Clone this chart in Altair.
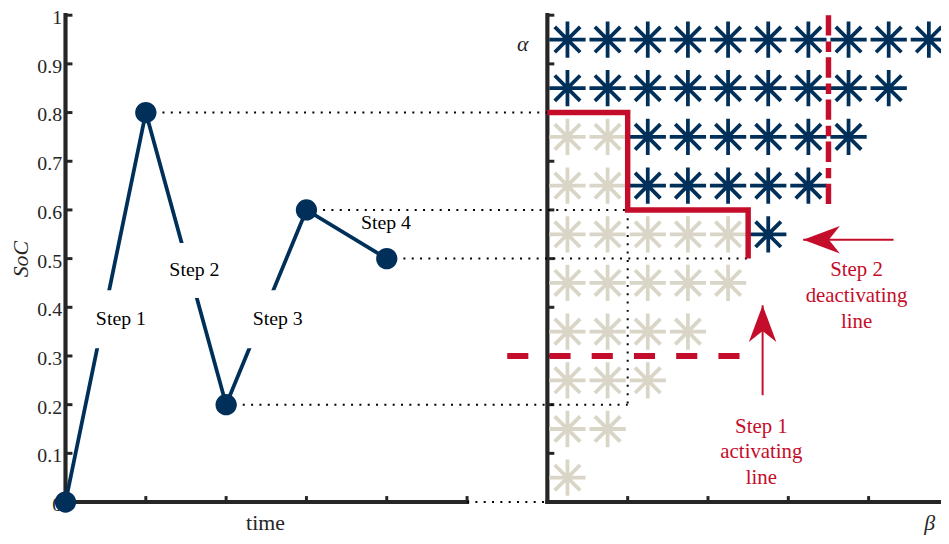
import altair as alt
import pandas as pd

# ------------------------------------------------------------------ data
# SoC trajectory (left panel)
time = [0, 1, 2, 3, 4]
soc = [0.0, 0.8, 0.2, 0.6, 0.5]

step_text = ["Step 1", "Step 2", "Step 3", "Step 4"]
step_t = [0.69, 1.605, 2.642, 3.99]
step_soc = [0.376, 0.476, 0.376, 0.573]

# white label backgrounds that interrupt the trajectory behind labels 1-3
box_t0 = [0.36, 1.25, 2.26]
box_t1 = [1.05, 1.98, 2.99]
box_soc0 = [0.316, 0.419, 0.316]
box_soc1 = [0.435, 0.532, 0.435]

soc_ticks = [0, 0.1, 0.2, 0.3, 0.4, 0.5, 0.6, 0.7, 0.8, 0.9, 1.0]
time_ticks = [1, 2, 3, 4, 5]
beta_ticks = [0.2, 0.4, 0.6, 0.8]
alpha_ticks = [0.1, 0.2, 0.3, 0.4, 0.5, 0.6, 0.7, 0.8, 0.9, 1.0]

# Preisach plane (right panel)
alpha_rows = [0.95, 0.85, 0.75, 0.65, 0.55, 0.45, 0.35, 0.25, 0.15, 0.05]
beta_cols = [0.05, 0.15, 0.25, 0.35, 0.45, 0.55, 0.65, 0.75, 0.85, 0.95]
stars_per_row = [10, 9, 8, 7, 6, 5, 4, 3, 2, 1]
inactive_per_row = [0, 0, 2, 2, 5, 5, 4, 3, 2, 1]

stair_beta = [0.0, 0.2, 0.2, 0.5, 0.5]
stair_alpha = [0.8, 0.8, 0.6, 0.6, 0.5]
deact_beta = [0.7]
deact_alpha = [1.0, 0.6]
act_alpha = [0.3]
act_beta = [-0.1, 0.5]

# dotted connectors: SoC level, time on the left, beta on the right
conn_soc = [0.8, 0.6, 0.5, 0.2, 0.0]
conn_time = [1, 3, 4, 2, 5]
conn_beta = [0.0, 0.2, 0.5, 0.2, 0.0]
vconn_beta = [0.2]
vconn_alpha = [0.6, 0.2]

# arrows (tail -> tip) and red captions (anchored at first line)
arrow1_beta = [0.536, 0.536]
arrow1_alpha = [0.2195, 0.404]
arrow2_beta = [0.862, 0.637]
arrow2_alpha = [0.5386, 0.5386]
red_text = ["Step 1\nactivating\nline", "Step 2\ndeactivating\nline"]
red_beta = [0.533, 0.770]
red_alpha = [0.155, 0.476]

# ------------------------------------------------------------------ style
BLUE = "#00305a"
RED = "#c40d2a"
BEIGE = "#d9d6c8"
AXIS = "#262626"
FONT = "Liberation Serif"

GAP = 6.0      # time units from left origin to beta = 0
BSCALE = 5.0   # time units per unit beta
W, H = 883, 491
XMAX = W / 81.0


def ub(b):
    return [GAP + BSCALE * v for v in b]


XS = alt.Scale(domain=[0, XMAX], nice=False, zero=False)
YS = alt.Scale(domain=[0, 1], nice=False, zero=False)


def X(f="u"):
    return alt.X(f"{f}:Q", scale=XS, axis=None)


def X2(f="u2"):
    return alt.X2(f"{f}:Q")


def Y(f="v"):
    return alt.Y(f"{f}:Q", scale=YS)


def Y2(f="v2"):
    return alt.Y2(f"{f}:Q")


layers = []

# ---- left y ticks (carry the labelled axis) - first layer
yt = pd.DataFrame({"v": soc_ticks[1:], "u": 0.0, "u2": 0.0})
yaxis = alt.Axis(values=soc_ticks, format=".1~f", domain=False, ticks=False,
                 grid=False, labelFont=FONT, labelFontSize=20, labelColor=AXIS,
                 labelPadding=4, labelOffset=2.5, title="SoC", titleFont=FONT,
                 titleFontSize=22, titleFontStyle="italic", titleFontWeight="normal",
                 titleColor=AXIS, titlePadding=4)
layers.append(alt.Chart(yt).mark_rule(color=AXIS, strokeWidth=3, x2Offset=7)
              .encode(x=X(), x2=X2(), y=alt.Y("v:Q", scale=YS, axis=yaxis)))

# ---- axis frames
frame = pd.DataFrame({
    "u": [0, 0, GAP, GAP],
    "u2": [0, max(time_ticks), GAP, ub([1.0])[0]],
    "v": [0, 0, 0, 0],
    "v2": [1, 0, 1, 0],
})
layers.append(alt.Chart(frame).mark_rule(color=AXIS, strokeWidth=4.2, strokeCap="square")
              .encode(x=X(), x2=X2(), y=Y(), y2=Y2()))

# right y ticks
ryt = pd.DataFrame({"v": alpha_ticks, "u": GAP, "u2": GAP})
layers.append(alt.Chart(ryt).mark_rule(color=AXIS, strokeWidth=3, x2Offset=7)
              .encode(x=X(), x2=X2(), y=Y()))
# x ticks (left time, right beta)
xt = pd.DataFrame({"u": time_ticks + ub(beta_ticks), "v": 0.0, "v2": 0.0})
layers.append(alt.Chart(xt).mark_rule(color=AXIS, strokeWidth=3, y2Offset=-6)
              .encode(x=X(), y=Y(), y2=Y2()))

# ---- stars
rows = []
for i, a in enumerate(alpha_rows):
    for j in range(stars_per_row[i]):
        rows.append({"u": ub([beta_cols[j]])[0], "v": a,
                     "state": "off" if j < inactive_per_row[i] else "on"})
stars = pd.DataFrame(rows)
STAR = "M-1,0L1,0M0,-1L0,1M-0.7,-0.7L0.7,0.7M-0.7,0.7L0.7,-0.7"
layers.append(alt.Chart(stars).mark_point(shape=STAR, filled=False, size=1340,
                                          strokeWidth=3.8, opacity=1)
              .encode(x=X(), y=Y(),
                      color=alt.Color("state:N", scale=alt.Scale(domain=["off", "on"],
                                                                  range=[BEIGE, BLUE]),
                                      legend=None)))

# ---- dotted connectors
conn = pd.DataFrame({"u": conn_time, "u2": ub(conn_beta), "v": conn_soc})
layers.append(alt.Chart(conn).mark_rule(color="black", strokeWidth=2, strokeDash=[2, 6.4])
              .encode(x=X(), x2=X2(), y=Y()))
vconn = pd.DataFrame({"u": ub(vconn_beta), "v": [vconn_alpha[0]], "v2": [vconn_alpha[1]]})
layers.append(alt.Chart(vconn).mark_rule(color="black", strokeWidth=2, strokeDash=[2, 6.4])
              .encode(x=X(), y=Y(), y2=Y2()))

# ---- red boundary lines
stair = pd.DataFrame({"u": ub(stair_beta), "v": stair_alpha, "i": range(len(stair_beta))})
layers.append(alt.Chart(stair).mark_line(color=RED, strokeWidth=5.5, strokeJoin="miter",
                                         strokeCap="butt")
              .encode(x=X(), y=Y(), order="i:Q"))
deact = pd.DataFrame({"u": ub(deact_beta), "v": [deact_alpha[0]], "v2": [deact_alpha[1]]})
layers.append(alt.Chart(deact).mark_rule(color=RED, strokeWidth=5.5,
                                         strokeDash=[20.5, 6, 10.5, 5.5])
              .encode(x=X(), y=Y(), y2=Y2()))
act = pd.DataFrame({"u": [ub(act_beta)[0]], "u2": [ub(act_beta)[1]], "v": act_alpha})
layers.append(alt.Chart(act).mark_rule(color=RED, strokeWidth=6, strokeDash=[21.3, 21.3])
              .encode(x=X(), x2=X2(), y=Y()))

# ---- arrows
ARROW = "M0,0L0.75,2L0,1.4L-0.75,2Z"
for bb, aa, ang in [(arrow1_beta, arrow1_alpha, 0), (arrow2_beta, arrow2_alpha, 270)]:
    uu = ub(bb)
    shaft = pd.DataFrame({"u": [uu[0]], "u2": [uu[1]], "v": [aa[0]], "v2": [aa[1]]})
    layers.append(alt.Chart(shaft).mark_rule(color=RED, strokeWidth=2)
                  .encode(x=X(), x2=X2(), y=Y(), y2=Y2()))
    head = pd.DataFrame({"u": [uu[1]], "v": [aa[1]]})
    layers.append(alt.Chart(head).mark_point(shape=ARROW, filled=True, size=1369,
                                             color=RED, opacity=1, angle=ang, strokeWidth=0)
                  .encode(x=X(), y=Y()))

reds = pd.DataFrame({"u": ub(red_beta), "v": red_alpha, "t": red_text})
layers.append(alt.Chart(reds).mark_text(font=FONT, fontSize=21, color=RED, lineBreak="\n",
                                        lineHeight=26, align="center", baseline="middle")
              .encode(x=X(), y=Y(), text="t:N"))

# ---- trajectory
traj = pd.DataFrame({"u": time, "v": soc, "i": range(len(time))})
layers.append(alt.Chart(traj).mark_line(color=BLUE, strokeWidth=3.8)
              .encode(x=X(), y=Y(), order="i:Q"))
boxes = pd.DataFrame({"u": box_t0, "u2": box_t1, "v": box_soc0, "v2": box_soc1})
layers.append(alt.Chart(boxes).mark_rect(color="white", opacity=1)
              .encode(x=X(), x2=X2(), y=Y(), y2=Y2()))
layers.append(alt.Chart(traj).mark_circle(color=BLUE, size=460, opacity=1)
              .encode(x=X(), y=Y()))
steps = pd.DataFrame({"u": step_t, "v": step_soc, "t": step_text})
layers.append(alt.Chart(steps).mark_text(font=FONT, fontSize=20, color="black",
                                         align="center", baseline="middle")
              .encode(x=X(), y=Y(), text="t:N"))

# ---- axis names
names = pd.DataFrame({
    "u": [2.49, ub([-0.0617])[0], ub([0.952])[0]],
    "v": [-0.0569, 0.9274, -0.058],
    "t": ["time", "α", "β"],
})
layers.append(alt.Chart(names.iloc[[0]]).mark_text(font=FONT, fontSize=22, color=AXIS,
                                                   align="center", baseline="alphabetic")
              .encode(x=X(), y=Y(), text="t:N"))
layers.append(alt.Chart(names.iloc[[1, 2]]).mark_text(font=FONT, fontSize=22, color=AXIS,
                                                      fontStyle="italic", align="center",
                                                      baseline="alphabetic")
              .encode(x=X(), y=Y(), text="t:N"))

chart = (alt.layer(*layers)
         .properties(width=W, height=H,
                     padding={"left": 58, "top": 5, "right": 0, "bottom": 32},
                     autosize=alt.AutoSizeParams(type="none"))
         .configure_view(stroke=None))

chart.save("out.html", embed_options={"renderer": "svg", "actions": False})
